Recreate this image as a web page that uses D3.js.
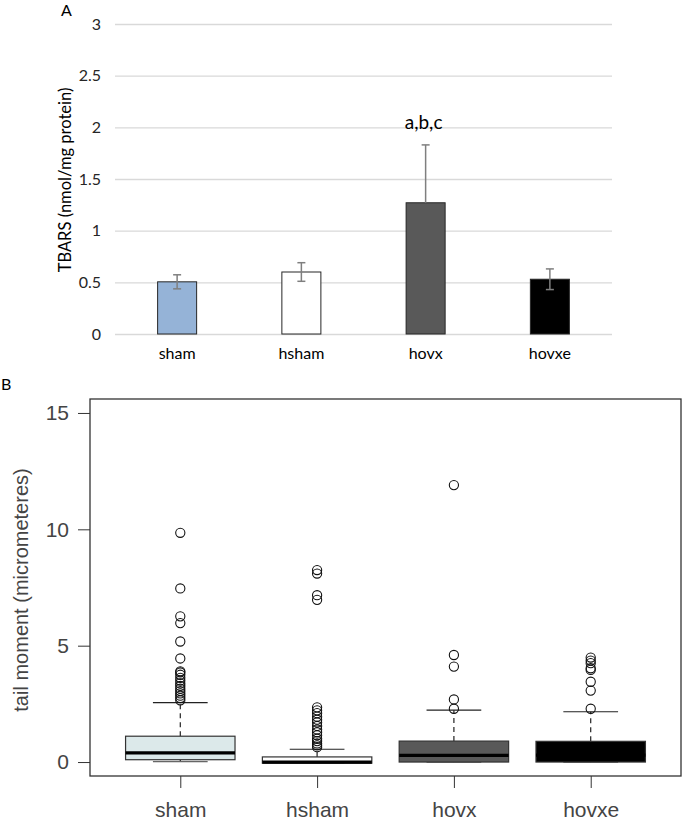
<!DOCTYPE html>
<html><head><meta charset="utf-8">
<script src="https://cdn.jsdelivr.net/npm/d3@7/dist/d3.min.js"></script>
<style>body{margin:0;background:#fff} svg{display:block}</style>
</head><body>
<svg id="c" width="683" height="822"></svg>
<script>
// ---------- Data ----------
const categories = ["sham", "hsham", "hovx", "hovxe"];

// Panel A: TBARS means and error (SEM)
const tbarsMean = [0.505, 0.60, 1.27, 0.53];
const tbarsErrUp = [0.068, 0.09, 0.56, 0.10];
const tbarsErrDown = [0.068, 0.09, 0.0, 0.10];
const tbarsTicks = [0, 0.5, 1, 1.5, 2, 2.5, 3];
const tbarsFill = ["#95b3d7", "#ffffff", "#595959", "#000000"];
const sigLabels = ["", "", "a,b,c", ""];

// Panel B: tail moment box plots
const boxQ1 = [0.10, -0.05, 0.00, 0.00];
const boxMedian = [0.39, 0.00, 0.29, 0.30];
const boxQ3 = [1.11, 0.22, 0.90, 0.89];
const whiskerLow = [0.02, -0.05, 0.00, 0.00];
const whiskerHigh = [2.55, 0.55, 2.23, 2.16];
const outliersSham = [9.85, 7.46, 6.26, 5.97, 5.18, 4.45, 3.9, 3.85, 3.75, 3.62, 3.5, 3.38, 3.27, 3.15, 3.05, 2.95, 2.85, 2.75, 2.65];
const outliersHsham = [8.25, 8.1, 7.17, 6.97, 2.35, 2.22, 2.1, 1.95, 1.82, 1.7, 1.55, 1.4, 1.28, 1.15, 1.0, 0.9, 0.8, 0.72, 0.64];
const outliersHovx = [11.9, 4.6, 4.1, 2.69, 2.29];
const outliersHovxe = [4.49, 4.36, 4.25, 4.03, 3.96, 3.45, 3.07, 2.29];
const boxFill = ["#dce9ea", "#ffffff", "#595959", "#000000"];
const tailTicks = [0, 5, 10, 15];

const svg = d3.select("#c");

// ---------- Panel A ----------
const fontA = "Lato, 'Open Sans', sans-serif";
const ax = d3.scaleBand().domain(categories).range([115, 612]).paddingInner(0.686).paddingOuter(0.343);
const ay = d3.scaleLinear().domain([0, 3]).range([334, 24]);

const gA = svg.append("g");
const gridA = gA.append("g").attr("transform", "translate(115,0)")
  .call(d3.axisLeft(ay).tickValues(tbarsTicks).tickSize(-497).tickPadding(14)
    .tickFormat(d => d3.format("")(d)));
gridA.select(".domain").remove();
gridA.selectAll(".tick line").attr("stroke", "#d9d9d9").attr("stroke-width", 1.3);
gridA.selectAll(".tick text").attr("font-family", fontA).attr("font-size", 16).attr("fill", "#262626");

const barsA = categories.map((c, i) => ({c, m: tbarsMean[i], up: tbarsErrUp[i], dn: tbarsErrDown[i], fill: tbarsFill[i], sig: sigLabels[i]}));
gA.selectAll("rect.bar").data(barsA).join("rect").attr("class", "bar")
  .attr("x", d => ax(d.c)).attr("width", ax.bandwidth())
  .attr("y", d => ay(d.m)).attr("height", d => ay(0) - ay(d.m))
  .attr("fill", d => d.fill).attr("stroke", "#262626").attr("stroke-width", 1);

const errG = gA.selectAll("g.err").data(barsA).join("g").attr("class", "err")
  .attr("stroke", "#7f7f7f").attr("stroke-width", 1.5);
errG.append("line")
  .attr("x1", d => ax(d.c) + ax.bandwidth() / 2).attr("x2", d => ax(d.c) + ax.bandwidth() / 2)
  .attr("y1", d => ay(d.m + d.up)).attr("y2", d => ay(d.m - d.dn));
errG.append("line")
  .attr("x1", d => ax(d.c) + ax.bandwidth() / 2 - 4).attr("x2", d => ax(d.c) + ax.bandwidth() / 2 + 4)
  .attr("y1", d => ay(d.m + d.up)).attr("y2", d => ay(d.m + d.up));
errG.filter(d => d.dn > 0).append("line")
  .attr("x1", d => ax(d.c) + ax.bandwidth() / 2 - 4).attr("x2", d => ax(d.c) + ax.bandwidth() / 2 + 4)
  .attr("y1", d => ay(d.m - d.dn)).attr("y2", d => ay(d.m - d.dn));

gA.selectAll("text.sig").data(barsA.filter(d => d.sig)).join("text").attr("class", "sig")
  .attr("x", d => ax(d.c) + ax.bandwidth() / 2 - 2).attr("y", 129)
  .attr("text-anchor", "middle").attr("font-family", fontA).attr("font-size", 19).attr("fill", "#000")
  .text(d => d.sig);

gA.selectAll("text.cat").data(categories).join("text").attr("class", "cat")
  .attr("x", d => ax(d) + ax.bandwidth() / 2).attr("y", 359)
  .attr("text-anchor", "middle").attr("font-family", fontA).attr("font-size", 16).attr("fill", "#000")
  .text(d => d);

gA.append("text").attr("transform", "translate(71,180) rotate(-90)")
  .attr("text-anchor", "middle").attr("font-family", fontA).attr("font-size", 16.5).attr("fill", "#000")
  .text("TBARS (nmol/mg protein)");

gA.append("text").attr("x", 61).attr("y", 16).attr("font-family", fontA).attr("font-size", 16).attr("fill", "#000").text("A");

// ---------- Panel B ----------
const fontB = "'Liberation Sans', Arial, sans-serif";
const bx = d3.scaleLinear().domain([0.34, 4.66]).range([90, 681]);
const by = d3.scaleLinear().domain([-0.6, 15.6]).range([776, 399]);
const gB = svg.append("g");

svg.append("text").attr("x", 1).attr("y", 390).attr("font-family", fontA).attr("font-size", 16).attr("fill", "#000").text("B");

const yAxB = gB.append("g").attr("transform", "translate(90,0)")
  .call(d3.axisLeft(by).tickValues(tailTicks).tickSize(12).tickPadding(9));
yAxB.select(".domain").remove();
yAxB.selectAll(".tick line").attr("stroke", "#333");
yAxB.selectAll(".tick text").attr("font-family", fontB).attr("font-size", 21).attr("fill", "#444");

const xAxB = gB.append("g").attr("transform", "translate(0,776)")
  .call(d3.axisBottom(bx).tickValues([1, 2, 3, 4]).tickFormat(i => categories[i - 1]).tickSize(12).tickPadding(14));
xAxB.select(".domain").remove();
xAxB.selectAll(".tick line").attr("stroke", "#333");
xAxB.selectAll(".tick text").attr("font-family", fontB).attr("font-size", 21).attr("fill", "#444");

gB.append("text").attr("transform", "translate(28,590) rotate(-90)")
  .attr("text-anchor", "middle").attr("font-family", fontB).attr("font-size", 20).attr("fill", "#444")
  .text("tail moment (micrometeres)");

const outlierSets = [outliersSham, outliersHsham, outliersHovx, outliersHovxe];
const boxes = categories.map((c, i) => ({
  i: i + 1, q1: boxQ1[i], med: boxMedian[i], q3: boxQ3[i], lo: whiskerLow[i], hi: whiskerHigh[i],
  fill: boxFill[i], out: outlierSets[i]
}));
const halfW = (bx(1.4) - bx(1));
const stapleW = halfW / 2;

const bg = gB.selectAll("g.box").data(boxes).join("g").attr("class", "box");
// whiskers (dashed)
bg.append("line").attr("x1", d => bx(d.i)).attr("x2", d => bx(d.i))
  .attr("y1", d => by(d.q3)).attr("y2", d => by(d.hi))
  .attr("stroke", "#222").attr("stroke-dasharray", "5,4").attr("stroke-width", 1.2);
bg.append("line").attr("x1", d => bx(d.i)).attr("x2", d => bx(d.i))
  .attr("y1", d => by(d.q1)).attr("y2", d => by(d.lo))
  .attr("stroke", "#222").attr("stroke-dasharray", "5,4").attr("stroke-width", 1.2);
// staples
bg.append("line").attr("x1", d => bx(d.i) - stapleW).attr("x2", d => bx(d.i) + stapleW)
  .attr("y1", d => by(d.hi)).attr("y2", d => by(d.hi)).attr("stroke", "#222").attr("stroke-width", 1.2);
bg.append("line").attr("x1", d => bx(d.i) - stapleW).attr("x2", d => bx(d.i) + stapleW)
  .attr("y1", d => by(d.lo)).attr("y2", d => by(d.lo)).attr("stroke", "#666").attr("stroke-width", 1.2);
// box
bg.append("rect").attr("x", d => bx(d.i) - halfW).attr("width", 2 * halfW)
  .attr("y", d => by(d.q3)).attr("height", d => by(d.q1) - by(d.q3))
  .attr("fill", d => d.fill).attr("stroke", "#333").attr("stroke-width", 1.2);
// median
bg.append("line").attr("x1", d => bx(d.i) - halfW).attr("x2", d => bx(d.i) + halfW)
  .attr("y1", d => by(d.med)).attr("y2", d => by(d.med)).attr("stroke", "#000").attr("stroke-width", 3.2);
// outliers
bg.each(function(d) {
  d3.select(this).selectAll("circle").data(d.out).join("circle")
    .attr("cx", bx(d.i)).attr("cy", v => by(v)).attr("r", 4.6)
    .attr("fill", "none").attr("stroke", "#111").attr("stroke-width", 1.1);
});

// frame
gB.append("rect").attr("x", 90).attr("y", 399).attr("width", 591).attr("height", 377)
  .attr("fill", "none").attr("stroke", "#333").attr("stroke-width", 1.3);
</script>
</body></html>
